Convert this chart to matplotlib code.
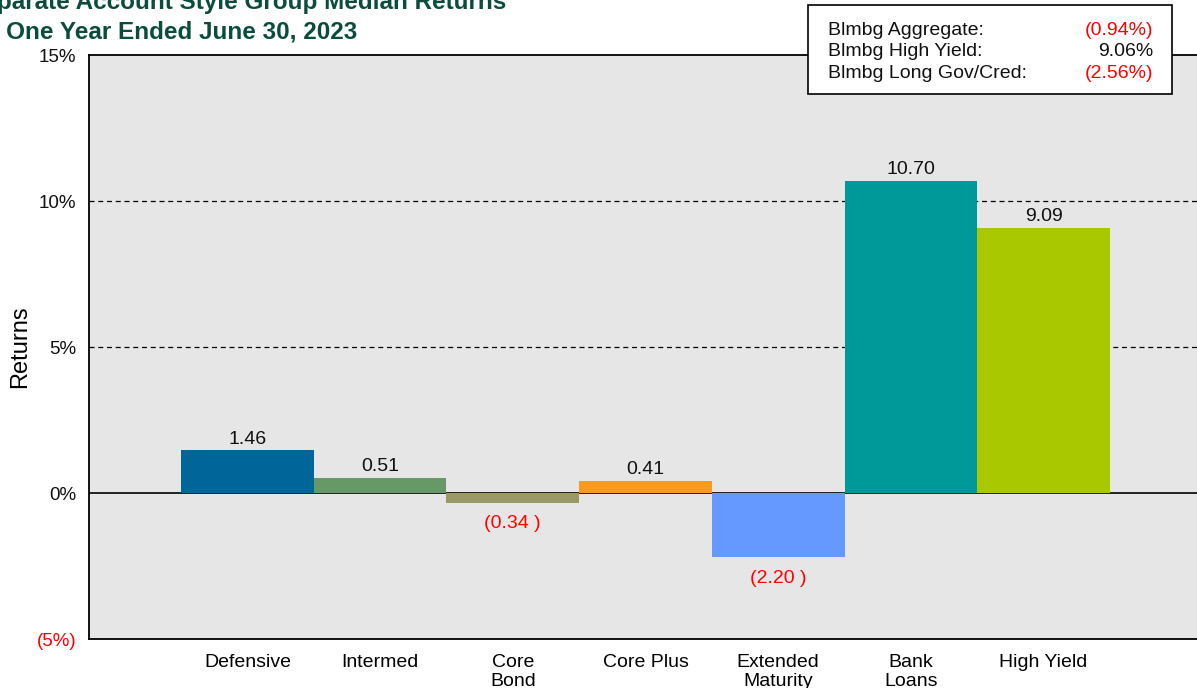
import matplotlib.pyplot as plt
from matplotlib.patches import Rectangle

plt.rcParams['font.family'] = ['Liberation Sans', 'DejaVu Sans']

# Data
categories = ['Defensive', 'Intermed', 'Core\nBond', 'Core Plus',
              'Extended\nMaturity', 'Bank\nLoans', 'High Yield']
returns = [1.46, 0.51, -0.34, 0.41, -2.20, 10.70, 9.09]
colors = ['#006699', '#669966', '#999966', '#f79a20',
          '#6699ff', '#009999', '#aac800']
bench_names = ['Blmbg Aggregate:', 'Blmbg High Yield:', 'Blmbg Long Gov/Cred:']
bench_values = [-0.94, 9.06, -2.56]
y_ticks = [15, 10, 5, 0, -5]
y_tick_labels = ['15%', '10%', '5%', '0%', '(5%)']

W, H = 1197, 688
fig = plt.figure(figsize=(W / 100, H / 100), dpi=100)

# axes runs off the right edge like in the source
ax_left, ax_right = 89, 1260
ax_bottom, ax_top = 639, 55
ax = fig.add_axes([ax_left / W, 1 - ax_bottom / H,
                   (ax_right - ax_left) / W, (ax_bottom - ax_top) / H])
ax.set_facecolor('#e6e6e6')

slot = 132.7
x0 = -(247.4 - ax_left) / slot
ax.set_xlim(x0, x0 + (ax_right - ax_left) / slot)
ax.set_ylim(-5, 15)

xs = list(range(len(categories)))
ax.bar(xs, returns, width=1.0, color=colors, zorder=3)

for g in [5, 10]:
    ax.axhline(g, color='black', linestyle=(0, (4, 3)), linewidth=0.9, zorder=1)
ax.axhline(0, color='black', linewidth=1.2, zorder=2)

for x, v in zip(xs, returns):
    if v >= 0:
        ax.annotate(f'{v:.2f}', (x, v), xytext=(0, 2), textcoords='offset points',
                    ha='center', va='bottom', fontsize=14, color='#111111')
    else:
        ax.annotate(f'({abs(v):.2f} )', (x, v), xytext=(0, -9),
                    textcoords='offset points', ha='center', va='top',
                    fontsize=14, color='red')

ax.set_xticks(xs)
ax.set_xticklabels(categories, fontsize=14, linespacing=1.12)
ax.set_yticks(y_ticks)
ax.set_yticklabels(y_tick_labels, fontsize=13.5)
for lbl, t in zip(ax.get_yticklabels(), y_ticks):
    lbl.set_color('red' if t < 0 else '#111111')
ax.tick_params(axis='both', length=0)
ax.tick_params(axis='y', pad=9)
ax.tick_params(axis='x', pad=11)

for side in ['left', 'top', 'bottom']:
    ax.spines[side].set_color('black')
    ax.spines[side].set_linewidth(1.3)
ax.spines['right'].set_visible(False)

fig.text(20 / W, 1 - 347 / H, 'Returns', rotation=90, fontsize=17,
         ha='center', va='center')

# title, clipped at the left edge as in the reference
title_color = '#0b4d3c'
fig.text(-33 / W, 1 - 9 / H, 'Separate Account Style Group Median Returns',
         fontsize=17.5, fontweight='bold', color=title_color, ha='left', va='baseline')
fig.text(-33 / W, 1 - 38 / H, 'for One Year Ended June 30, 2023',
         fontsize=17.5, fontweight='bold', color=title_color, ha='left', va='baseline')

# benchmark box
box = Rectangle((808 / W, 1 - 94 / H), (1172 - 808) / W, (94 - 5) / H,
                transform=fig.transFigure, facecolor='white', edgecolor='black',
                linewidth=1.2, zorder=5)
fig.patches.append(box)
baselines = [35, 56, 78]
for name, val, yb in zip(bench_names, bench_values, baselines):
    fig.text(828 / W, 1 - yb / H, name, fontsize=14, ha='left', va='baseline',
             color='#111111', zorder=6)
    if val < 0:
        txt, col = f'({abs(val):.2f}%)', 'red'
    else:
        txt, col = f'{val:.2f}%', '#111111'
    fig.text(1153 / W, 1 - yb / H, txt, fontsize=14, ha='right', va='baseline',
             color=col, zorder=6)

fig.savefig('out.png', dpi=100)
